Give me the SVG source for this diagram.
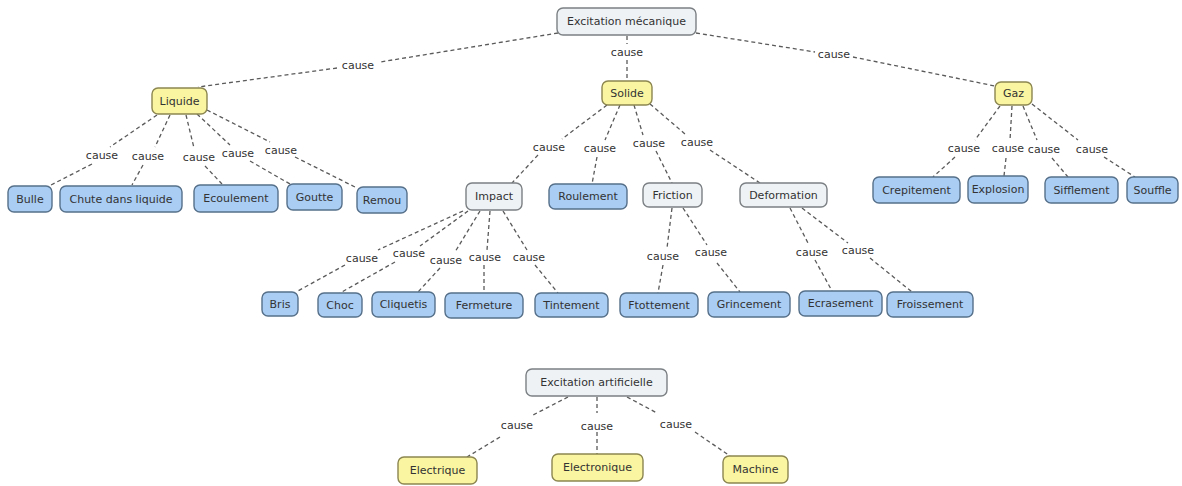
<svg xmlns="http://www.w3.org/2000/svg" width="1182" height="486" viewBox="0 0 1182 486">
<style>
  .n rect { rx: 6; ry: 6; stroke-width: 1.4; }
  .g rect { fill: #eef2f5; stroke: #7c8084; }
  .y rect { fill: #f9f5a0; stroke: #8c8650; }
  .b rect { fill: #a9cdf3; stroke: #56708a; }
  text { font-family: "DejaVu Sans", Verdana, sans-serif; font-size: 11px; fill: #333; text-anchor: middle; dominant-baseline: central; }
  .c line { stroke: #5a5a5a; stroke-width: 1.3; stroke-dasharray: 4 3; fill: none; }
</style>
<rect width="1182" height="486" fill="#ffffff"/>
<g id="connectors" class="c">
  <line x1="558" y1="33" x2="380" y2="62"/><line x1="337" y1="68" x2="198" y2="87"/>
  <line x1="627" y1="36" x2="627" y2="44"/><line x1="627" y1="60" x2="627" y2="80"/>
  <line x1="696" y1="33" x2="815" y2="52"/><line x1="853" y1="57" x2="995" y2="86"/>
  <line x1="157" y1="115" x2="110" y2="147"/><line x1="92" y1="164" x2="51" y2="185"/>
  <line x1="170" y1="115" x2="155" y2="147"/><line x1="143" y1="165" x2="132" y2="185"/>
  <line x1="186" y1="115" x2="194" y2="148"/><line x1="205" y1="166" x2="222" y2="184"/>
  <line x1="197" y1="114" x2="230" y2="145"/><line x1="250" y1="161" x2="290" y2="184"/>
  <line x1="207" y1="110" x2="270" y2="142"/><line x1="295" y1="157" x2="355" y2="187"/>
  <line x1="607" y1="105" x2="562" y2="139"/><line x1="538" y1="155" x2="512" y2="183"/>
  <line x1="620" y1="105" x2="605" y2="140"/><line x1="597" y1="157" x2="592" y2="184"/>
  <line x1="634" y1="105" x2="643" y2="135"/><line x1="656" y1="151" x2="672" y2="183"/>
  <line x1="650" y1="104" x2="685" y2="134"/><line x1="710" y1="150" x2="760" y2="183"/>
  <line x1="1000" y1="106" x2="975" y2="140"/><line x1="955" y1="157" x2="933" y2="177"/>
  <line x1="1012" y1="106" x2="1010" y2="140"/><line x1="1006" y1="158" x2="1004" y2="176"/>
  <line x1="1023" y1="106" x2="1037" y2="140"/><line x1="1052" y1="158" x2="1068" y2="177"/>
  <line x1="1032" y1="104" x2="1078" y2="140"/><line x1="1104" y1="157" x2="1135" y2="177"/>
  <line x1="463" y1="211" x2="378" y2="250"/><line x1="345" y1="265" x2="296" y2="292"/>
  <line x1="468" y1="211" x2="420" y2="246"/><line x1="395" y1="262" x2="340" y2="293"/>
  <line x1="480" y1="211" x2="455" y2="252"/><line x1="440" y1="268" x2="418" y2="292"/>
  <line x1="490" y1="211" x2="487" y2="250"/><line x1="484" y1="265" x2="484" y2="293"/>
  <line x1="503" y1="211" x2="527" y2="250"/><line x1="535" y1="265" x2="558" y2="293"/>
  <line x1="672" y1="208" x2="667" y2="248"/><line x1="663" y1="265" x2="658" y2="293"/>
  <line x1="683" y1="208" x2="707" y2="245"/><line x1="717" y1="263" x2="740" y2="292"/>
  <line x1="790" y1="208" x2="808" y2="243"/><line x1="815" y1="260" x2="832" y2="291"/>
  <line x1="802" y1="208" x2="848" y2="243"/><line x1="870" y1="258" x2="912" y2="292"/>
  <line x1="568" y1="397" x2="533" y2="415"/><line x1="500" y1="437" x2="467" y2="457"/>
  <line x1="597" y1="397" x2="597" y2="413"/><line x1="597" y1="432" x2="597" y2="454"/>
  <line x1="627" y1="397" x2="657" y2="413"/><line x1="695" y1="432" x2="730" y2="456"/>
  <text x="358" y="65">cause</text>
  <text x="627" y="52">cause</text>
  <text x="834" y="54">cause</text>
  <text x="102" y="155">cause</text>
  <text x="148" y="156">cause</text>
  <text x="199" y="157">cause</text>
  <text x="238" y="153">cause</text>
  <text x="281" y="150">cause</text>
  <text x="549" y="147">cause</text>
  <text x="600" y="148">cause</text>
  <text x="649" y="143">cause</text>
  <text x="697" y="142">cause</text>
  <text x="964" y="148">cause</text>
  <text x="1008" y="148">cause</text>
  <text x="1044" y="149">cause</text>
  <text x="1092" y="149">cause</text>
  <text x="362" y="258">cause</text>
  <text x="409" y="253">cause</text>
  <text x="446" y="260">cause</text>
  <text x="485" y="257">cause</text>
  <text x="529" y="257">cause</text>
  <text x="663" y="256">cause</text>
  <text x="711" y="252">cause</text>
  <text x="812" y="252">cause</text>
  <text x="858" y="250">cause</text>
  <text x="517" y="425">cause</text>
  <text x="597" y="426">cause</text>
  <text x="676" y="424">cause</text>
</g>
<g id="mecanique" class="n g"><rect x="557" y="8" width="139" height="27"/><text x="626.5" y="21.5">Excitation mécanique</text></g>
<g id="impact" class="n g"><rect x="466" y="183" width="56" height="27"/><text x="494" y="196.5">Impact</text></g>
<g id="friction" class="n g"><rect x="643" y="183" width="59" height="24"/><text x="672.5" y="195">Friction</text></g>
<g id="deformation" class="n g"><rect x="740" y="183" width="87" height="24"/><text x="783.5" y="195">Deformation</text></g>
<g id="artificielle" class="n g"><rect x="526" y="369" width="141" height="27"/><text x="596.5" y="382.5">Excitation artificielle</text></g>
<g id="liquide" class="n y"><rect x="152" y="88" width="55" height="26"/><text x="179.5" y="101">Liquide</text></g>
<g id="solide" class="n y"><rect x="602" y="81" width="50" height="24"/><text x="627" y="93">Solide</text></g>
<g id="gaz" class="n y"><rect x="995" y="82" width="37" height="23"/><text x="1013.5" y="93.5">Gaz</text></g>
<g id="electrique" class="n y"><rect x="398" y="457" width="79" height="27"/><text x="437.5" y="470.5">Electrique</text></g>
<g id="electronique" class="n y"><rect x="552" y="454" width="91" height="27"/><text x="597.5" y="467.5">Electronique</text></g>
<g id="machine" class="n y"><rect x="723" y="456" width="65" height="27"/><text x="755.5" y="469.5">Machine</text></g>
<g id="bulle" class="n b"><rect x="8" y="186" width="44" height="26"/><text x="30" y="199">Bulle</text></g>
<g id="chute" class="n b"><rect x="60" y="186" width="122" height="26"/><text x="121" y="199">Chute dans liquide</text></g>
<g id="ecoulement" class="n b"><rect x="194" y="185" width="84" height="27"/><text x="236" y="198.5">Ecoulement</text></g>
<g id="goutte" class="n b"><rect x="287" y="184" width="55" height="26"/><text x="314.5" y="197">Goutte</text></g>
<g id="remou" class="n b"><rect x="357" y="187" width="50" height="26"/><text x="382" y="200">Remou</text></g>
<g id="roulement" class="n b"><rect x="549" y="184" width="78" height="25"/><text x="588" y="196.5">Roulement</text></g>
<g id="crepitement" class="n b"><rect x="873" y="177" width="87" height="26"/><text x="916.5" y="190">Crepitement</text></g>
<g id="explosion" class="n b"><rect x="968" y="176" width="60" height="27"/><text x="998" y="189.5">Explosion</text></g>
<g id="sifflement" class="n b"><rect x="1045" y="177" width="73" height="26"/><text x="1081.5" y="190">Sifflement</text></g>
<g id="souffle" class="n b"><rect x="1127" y="177" width="51" height="26"/><text x="1152.5" y="190">Souffle</text></g>
<g id="bris" class="n b"><rect x="262" y="292" width="36" height="24"/><text x="280" y="304">Bris</text></g>
<g id="choc" class="n b"><rect x="318" y="293" width="44" height="24"/><text x="340" y="305">Choc</text></g>
<g id="cliquetis" class="n b"><rect x="372" y="292" width="63" height="25"/><text x="403.5" y="304.5">Cliquetis</text></g>
<g id="fermeture" class="n b"><rect x="445" y="293" width="78" height="25"/><text x="484" y="305.5">Fermeture</text></g>
<g id="tintement" class="n b"><rect x="535" y="293" width="73" height="24"/><text x="571.5" y="305">Tintement</text></g>
<g id="ftottement" class="n b"><rect x="620" y="293" width="78" height="24"/><text x="659" y="305">Ftottement</text></g>
<g id="grincement" class="n b"><rect x="708" y="292" width="82" height="25"/><text x="749" y="304.5">Grincement</text></g>
<g id="ecrasement" class="n b"><rect x="799" y="291" width="83" height="25"/><text x="840.5" y="303.5">Ecrasement</text></g>
<g id="froissement" class="n b"><rect x="887" y="292" width="86" height="25"/><text x="930" y="304.5">Froissement</text></g>
</svg>
